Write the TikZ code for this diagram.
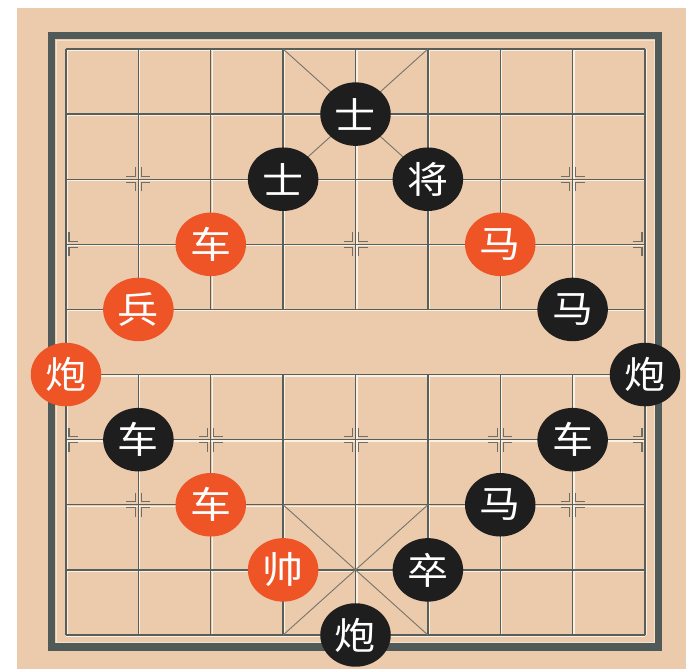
\documentclass[tikz,border=0pt]{standalone}
\usepackage{fontspec}
\newfontfamily\cjk{Noto Sans CJK SC}
\definecolor{boardbg}{RGB}{236,202,172}
\definecolor{framec}{RGB}{80,90,88}
\definecolor{gridc}{RGB}{88,94,90}
\definecolor{hlc}{RGB}{250,240,228}
\definecolor{redpc}{RGB}{238,84,38}
\definecolor{blackpc}{RGB}{30,30,30}
\tikzset{
  gridl/.style={draw=gridc,line width=1.3pt},
  hll/.style={draw=hlc,line width=1.2pt},
  diagl/.style={draw=gridc!80!boardbg,line width=0.9pt},
  markl/.style={draw=gridc!85!boardbg,line width=1.3pt},
  piece/.style={circle,minimum size=63.5pt,inner sep=0pt,text=white,
    font=\cjk\fontsize{37}{37}\selectfont,xscale=1.11,transform shape},
  redpiece/.style={piece,fill=redpc},
  blackpiece/.style={piece,fill=blackpc},
}
\newcommand{\gx}[1]{66+72.375*#1}
\newcommand{\gy}[1]{49+65.11*#1}
\newcommand{\crossmark}[3]{% x y sides
  \foreach \sx in {#3}{\foreach \sy in {-1,1}{
    \draw[markl] ({#1+\sx*3},{#2+\sy*12}) -- ({#1+\sx*3},{#2+\sy*3}) -- ({#1+\sx*12},{#2+\sy*3});
  }}}
\begin{document}
\begin{tikzpicture}[x=1pt,y=-1pt]
\useasboundingbox (0,0) rectangle (686,669);
\fill[white] (0,0) rectangle (686,669);
\fill[boardbg] (17,8) rectangle (686,669);
% frame
\draw[framec,line width=7.5pt] (51.5,35.5) rectangle (658.5,647);
\draw[hlc!60!boardbg,line width=0.8pt] (56,40) rectangle (654,642.5);
% grid highlight
\foreach \r in {0,...,9}{\draw[hll] ({\gx{0}},{\gy{\r}+1.4}) -- ({\gx{8}},{\gy{\r}+1.4});}
\foreach \c in {0,8}{\draw[hll] ({\gx{\c}+1.4},{\gy{0}}) -- ({\gx{\c}+1.4},{\gy{9}});}
\foreach \c in {1,...,7}{
  \draw[hll] ({\gx{\c}+1.4},{\gy{0}}) -- ({\gx{\c}+1.4},{\gy{4}});
  \draw[hll] ({\gx{\c}+1.4},{\gy{5}}) -- ({\gx{\c}+1.4},{\gy{9}});}
% grid
\foreach \r in {0,...,9}{\draw[gridl] ({\gx{0}},{\gy{\r}}) -- ({\gx{8}},{\gy{\r}});}
\foreach \c in {0,8}{\draw[gridl] ({\gx{\c}},{\gy{0}}) -- ({\gx{\c}},{\gy{9}});}
\foreach \c in {1,...,7}{
  \draw[gridl] ({\gx{\c}},{\gy{0}}) -- ({\gx{\c}},{\gy{4}});
  \draw[gridl] ({\gx{\c}},{\gy{5}}) -- ({\gx{\c}},{\gy{9}});}
% palaces
\draw[diagl] ({\gx{3}},{\gy{0}}) -- ({\gx{5}},{\gy{2}});
\draw[diagl] ({\gx{5}},{\gy{0}}) -- ({\gx{3}},{\gy{2}});
\draw[diagl] ({\gx{3}},{\gy{7}}) -- ({\gx{5}},{\gy{9}});
\draw[diagl] ({\gx{5}},{\gy{7}}) -- ({\gx{3}},{\gy{9}});
% marks
\crossmark{\gx{1}}{\gy{2}}{-1,1}
\crossmark{\gx{7}}{\gy{2}}{-1,1}
\crossmark{\gx{1}}{\gy{7}}{-1,1}
\crossmark{\gx{7}}{\gy{7}}{-1,1}
\foreach \r in {3,6}{
  \crossmark{\gx{0}}{\gy{\r}}{1}
  \crossmark{\gx{8}}{\gy{\r}}{-1}
  \foreach \c in {2,4,6}{\crossmark{\gx{\c}}{\gy{\r}}{-1,1}}
}
% pieces
\node[blackpiece] (bs1) at ({\gx{4}},{\gy{1}}) {士};
\node[blackpiece] (bs2) at ({\gx{3}},{\gy{2}}) {士};
\node[blackpiece] (bj) at ({\gx{5}},{\gy{2}}) {将};
\node[redpiece] (rc1) at ({\gx{2}},{\gy{3}}) {车};
\node[redpiece] (rm) at ({\gx{6}},{\gy{3}}) {马};
\node[redpiece] (rb) at ({\gx{1}},{\gy{4}}) {兵};
\node[blackpiece] (bm1) at ({\gx{7}},{\gy{4}}) {马};
\node[redpiece] (rp) at ({\gx{0}},{\gy{5}}) {炮};
\node[blackpiece] (bp1) at ({\gx{8}},{\gy{5}}) {炮};
\node[blackpiece] (bc1) at ({\gx{1}},{\gy{6}}) {车};
\node[blackpiece] (bc2) at ({\gx{7}},{\gy{6}}) {车};
\node[redpiece] (rc2) at ({\gx{2}},{\gy{7}}) {车};
\node[blackpiece] (bm2) at ({\gx{6}},{\gy{7}}) {马};
\node[redpiece] (rs) at ({\gx{3}},{\gy{8}}) {帅};
\node[blackpiece] (bz) at ({\gx{5}},{\gy{8}}) {卒};
\node[blackpiece] (bp2) at ({\gx{4}},{\gy{9}}) {炮};
\end{tikzpicture}
\end{document}
